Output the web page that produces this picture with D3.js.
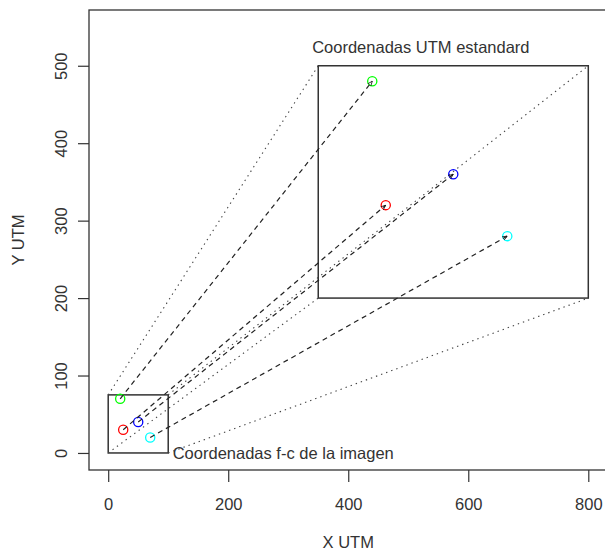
<!DOCTYPE html>
<html><head><meta charset="utf-8">
<script src="https://cdn.jsdelivr.net/npm/d3@7"></script>
<style>body{margin:0;background:#fff} text{font-family:"Liberation Sans",Arial,Helvetica,sans-serif}</style>
</head><body><svg id="c" width="605" height="552"></svg>
<script>
// ---- data ----
const pointColors = ["#00FF00", "#FF0000", "#0000FF", "#00FFFF"];
const imgX = [20, 25, 50, 70];
const imgY = [70, 30, 40, 20];
const utmX = [440, 462.5, 575, 665];
const utmY = [480, 320, 360, 280];
const imgBox = [0, 0, 100, 75];     // x0, y0, x1, y1
const utmBox = [350, 200, 800, 500]; // x0, y0, x1, y1
const xTicks = [0, 200, 400, 600, 800];
const yTicks = [0, 100, 200, 300, 400, 500];
const boxLabels = ["Coordenadas UTM estandard", "Coordenadas f-c de la imagen"];
const labelPos = [[521, 524], [100, 0]];
const axisTitles = ["X UTM", "Y UTM"];
const xLim = [-32, 832];
const yLim = [-22, 572];

// ---- drawing ----
const svg = d3.select("#c");
const L = 89, R = 607.5, T = 10, B = 470;
const fs = 16.5;
const x = d3.scaleLinear(xLim, [L, R]);
const y = d3.scaleLinear(yLim, [B, T]);
const ink = "#333";

svg.append("defs").append("marker")
  .attr("id", "ah").attr("viewBox", "0 0 10 10").attr("refX", 10).attr("refY", 5)
  .attr("markerWidth", 5).attr("markerHeight", 5).attr("markerUnits", "userSpaceOnUse")
  .attr("orient", "auto")
  .append("path").attr("d", "M0,1 L10,5 L0,9").attr("fill", "none").attr("stroke", "#111").attr("stroke-width", 1.5);

// x axis
const gx = svg.append("g").attr("transform", `translate(0,${B})`)
  .call(d3.axisBottom(x).tickValues(xTicks).tickSize(12).tickPadding(16).tickFormat(d3.format("d")));
gx.select(".domain").remove();
gx.selectAll("line").attr("stroke", "#333").attr("stroke-width", 1.2);
gx.selectAll("text").attr("font-size", fs).attr("fill", ink).attr("font-family", "Liberation Sans, Arial, sans-serif");

// y axis
const gy = svg.append("g").attr("transform", `translate(${L},0)`)
  .call(d3.axisLeft(y).tickValues(yTicks).tickSize(11).tickFormat(d3.format("d")));
gy.select(".domain").remove();
gy.selectAll("line").attr("stroke", "#333").attr("stroke-width", 1.2);
gy.selectAll("text")
  .attr("x", null).attr("dy", null)
  .attr("text-anchor", "middle").attr("dominant-baseline", "central")
  .attr("transform", "translate(-28,0) rotate(-90)")
  .attr("font-size", fs).attr("fill", ink).attr("font-family", "Liberation Sans, Arial, sans-serif");

// axis titles
svg.append("text").attr("x", (L + R) / 2).attr("y", 548).attr("text-anchor", "middle")
  .attr("font-size", fs).attr("fill", ink).text(axisTitles[0]);
svg.append("text").attr("transform", `translate(18,${(T + B) / 2}) rotate(-90)`).attr("text-anchor", "middle")
  .attr("dominant-baseline", "central").attr("font-size", fs).attr("fill", ink).text(axisTitles[1]);

// plot frame
svg.append("rect").attr("x", L).attr("y", T).attr("width", R - L).attr("height", B - T)
  .attr("fill", "none").attr("stroke", "#333").attr("stroke-width", 1.3);

// boxes
[imgBox, utmBox].forEach(b => {
  svg.append("rect").attr("x", x(b[0])).attr("y", y(b[3]))
    .attr("width", x(b[2]) - x(b[0])).attr("height", y(b[1]) - y(b[3]))
    .attr("fill", "none").attr("stroke", "#333").attr("stroke-width", 1.5);
});

// dotted corner connectors
const corners = [[0, 1], [2, 1], [2, 3], [0, 3]];
corners.forEach(([i, j]) => {
  svg.append("line")
    .attr("x1", x(imgBox[i])).attr("y1", y(imgBox[j]))
    .attr("x2", x(utmBox[i])).attr("y2", y(utmBox[j]))
    .attr("stroke", "#444").attr("stroke-width", 1.1).attr("stroke-dasharray", "1.4,4");
});

// points
pointColors.forEach((c, k) => {
  [[imgX[k], imgY[k]], [utmX[k], utmY[k]]].forEach(p => {
    svg.append("circle").attr("cx", x(p[0])).attr("cy", y(p[1])).attr("r", 4.6)
      .attr("fill", "none").attr("stroke", c).attr("stroke-width", 1.3);
  });
});

// dashed arrows
pointColors.forEach((c, k) => {
  svg.append("line")
    .attr("x1", x(imgX[k])).attr("y1", y(imgY[k]))
    .attr("x2", x(utmX[k])).attr("y2", y(utmY[k]))
    .attr("stroke", "#222").attr("stroke-width", 1.2).attr("stroke-dasharray", "5,4")
    .attr("marker-end", "url(#ah)");
});

// box labels
svg.append("text").attr("x", x(labelPos[0][0])).attr("y", y(labelPos[0][1]))
  .attr("text-anchor", "middle").attr("dominant-baseline", "central")
  .attr("font-size", fs).attr("fill", ink).text(boxLabels[0]);
svg.append("text").attr("x", x(labelPos[1][0]) + 4.5).attr("y", y(labelPos[1][1]))
  .attr("text-anchor", "start").attr("dominant-baseline", "central")
  .attr("font-size", fs).attr("fill", ink).text(boxLabels[1]);
</script></body></html>
